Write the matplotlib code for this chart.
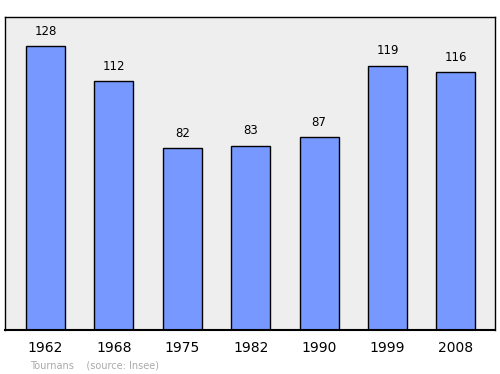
import matplotlib
matplotlib.use("Agg")
import matplotlib.pyplot as plt

years = ["1962", "1968", "1975", "1982", "1990", "1999", "2008"]
population = [128, 112, 82, 83, 87, 119, 116]

fig = plt.figure(figsize=(5, 3.74), dpi=100)
ax = fig.add_axes([0.01, 0.1176, 0.98, 0.837])
ax.set_facecolor("#eeeeee")

x = list(range(len(years)))
ax.bar(x, population, width=0.57, color="#7799ff", edgecolor="black", linewidth=1, zorder=2)
for xi, v in zip(x, population):
    ax.annotate(str(v), (xi, v), xytext=(0, 6), textcoords="offset points",
                ha="center", va="bottom", fontsize=8.5)

ax.set_xlim(-0.59, 6.57)
ax.set_ylim(0, 141)
ax.set_xticks(x)
ax.set_xticklabels(years, fontsize=10)
ax.tick_params(axis="x", length=0, pad=8)
ax.set_yticks([])
for s in ax.spines.values():
    s.set_linewidth(1)
ax.spines["bottom"].set_linewidth(1.5)

fig.text(0.06, 0.016, "Tournans    (source: Insee)", fontsize=7, color="#aaaaaa")

fig.savefig("out.png", dpi=100)
